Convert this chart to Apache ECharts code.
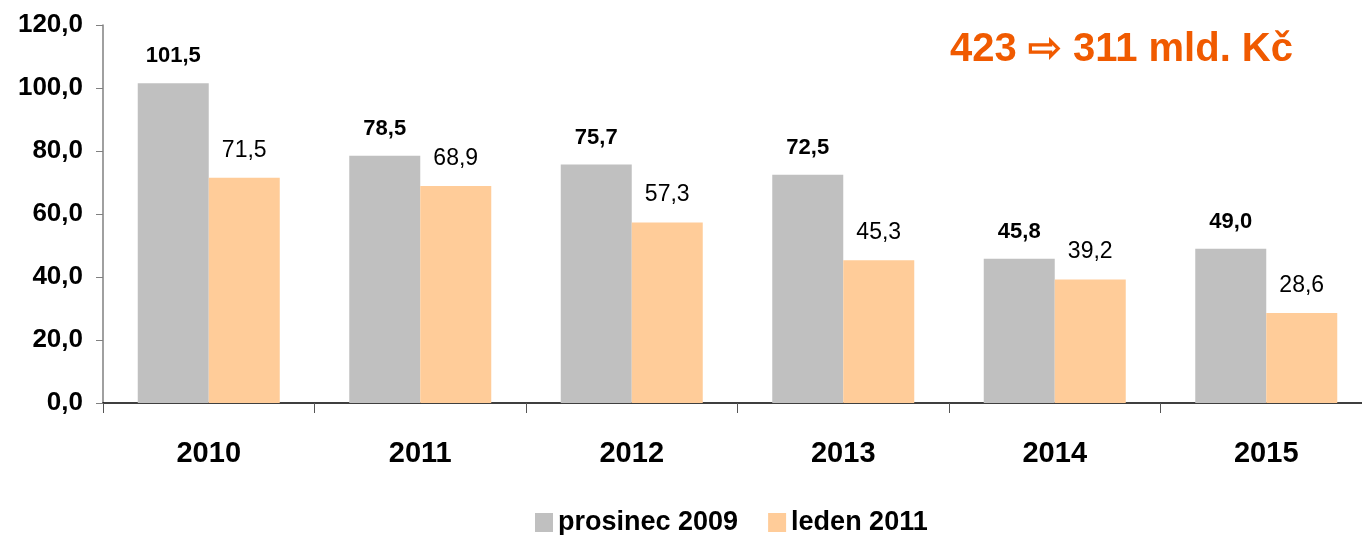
<!DOCTYPE html>
<html>
<head>
<meta charset="utf-8">
<script src="https://cdn.jsdelivr.net/npm/echarts@6/dist/echarts.min.js"></script>
<style>
  html, body { margin: 0; padding: 0; background: #fff; }
  #main { width: 1362px; height: 535px; }
</style>
</head>
<body>
<div id="main"></div>
<script>
const years = ['2010', '2011', '2012', '2013', '2014', '2015'];
const prosinec2009 = [101.5, 78.5, 75.7, 72.5, 45.8, 49.0];
const leden2011 = [71.5, 68.9, 57.3, 45.3, 39.2, 28.6];
const yTicks = { min: 0, max: 120, interval: 20 };

const font = 'Liberation Sans, Arial, sans-serif';
const fmt = v => v.toFixed(1).replace('.', ',');

const chart = echarts.init(document.getElementById('main'));

const option = {
  animation: false,
  textStyle: { fontFamily: font },
  title: {
    text: '423 \u21E8 311 mld. Kč',
    right: 64,
    top: 25,
    textStyle: { color: '#F05A00', fontSize: 40, fontWeight: 'bold', fontFamily: font }
  },
  legend: {
    top: 504,
    left: 530,
    itemWidth: 18,
    itemHeight: 19,
    itemGap: 30,
    icon: 'rect',
    textStyle: { fontSize: 27, fontWeight: 'bold', color: '#000', fontFamily: font }
  },
  grid: { left: 103, right: -10, top: 25, bottom: 132, outerBoundsMode: 'none' },
  xAxis: {
    type: 'category',
    data: years,
    axisLine: { lineStyle: { color: '#000', width: 1.5 } },
    axisTick: { show: true, length: 10, lineStyle: { color: '#555' } },
    axisLabel: { fontSize: 29, fontWeight: 'bold', color: '#000', margin: 36, fontFamily: font }
  },
  yAxis: {
    type: 'value',
    min: yTicks.min,
    max: yTicks.max,
    interval: yTicks.interval,
    splitLine: { show: false },
    axisLine: { show: true, lineStyle: { color: '#808080', width: 1.5 } },
    axisTick: { show: true, length: 7, lineStyle: { color: '#808080' } },
    axisLabel: { fontSize: 26, fontWeight: 'bold', color: '#000', margin: 20, formatter: fmt, fontFamily: font }
  },
  series: [
    {
      name: 'prosinec 2009',
      type: 'bar',
      data: prosinec2009,
      barWidth: 71,
      barGap: '0%',
      itemStyle: { color: '#C0C0C0' },
      label: {
        show: true, position: 'top', distance: 16,
        fontSize: 22, fontWeight: 'bold', color: '#000',
        formatter: p => fmt(p.value)
      }
    },
    {
      name: 'leden 2011',
      type: 'bar',
      data: leden2011,
      barWidth: 71,
      barGap: '0%',
      itemStyle: { color: '#FFCC99' },
      label: {
        show: true, position: 'top', distance: 16,
        fontSize: 23, color: '#000',
        formatter: p => fmt(p.value)
      }
    }
  ]
};

chart.setOption(option);
</script>
</body>
</html>
